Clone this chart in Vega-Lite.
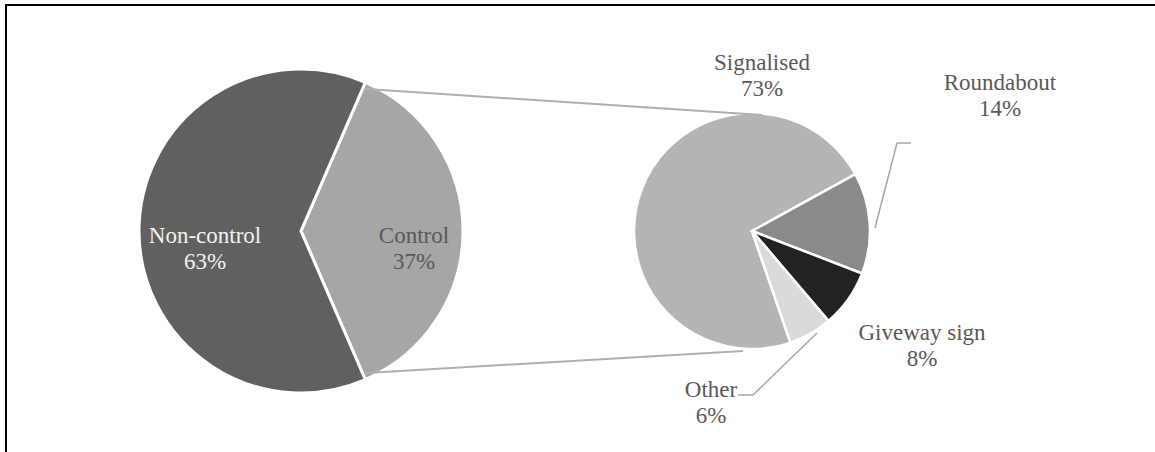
{
  "$schema": "https://vega.github.io/schema/vega-lite/v6.json",
  "width": 1155,
  "height": 452,
  "autosize": {"type": "fit", "contains": "padding"},
  "padding": {"left": 6, "top": 5, "right": 0, "bottom": 0},
  "background": "white",
  "config": {
    "view": {"stroke": "black", "strokeWidth": 2, "strokeDash": [1149, 1596, 449]},
    "text": {"font": "Liberation Serif"}
  },
  "data": {
    "values": [
      {"pie": "All", "category": "Control", "value": 37, "seq": 1},
      {"pie": "All", "category": "Non-control", "value": 63, "seq": 2},
      {"pie": "Control", "category": "Signalised", "value": 73, "seq": 1},
      {"pie": "Control", "category": "Roundabout", "value": 14, "seq": 2},
      {"pie": "Control", "category": "Giveway sign", "value": 8, "seq": 3},
      {"pie": "Control", "category": "Other", "value": 6, "seq": 4}
    ]
  },
  "encoding": {
    "x": {"field": "pie", "type": "nominal", "scale": {"type": "point", "domain": ["All", "Control"], "range": [295, 746], "padding": 0}, "axis": null},
    "y": {"field": "pie", "type": "nominal", "scale": {"type": "point", "domain": ["All", "Control"], "range": [226, 226], "padding": 0}, "axis": null}
  },
  "layer": [
    {
      "transform": [{"filter": "datum.pie === 'All'"}],
      "mark": {"type": "arc", "radius": 162, "stroke": "white", "strokeWidth": 3},
      "encoding": {
        "theta": {"field": "value", "type": "quantitative", "stack": true, "scale": {"range": [0.4084, 6.6916], "nice": false, "zero": true}},
        "order": {"field": "seq", "type": "quantitative"},
        "color": {"field": "category", "type": "nominal", "legend": null, "scale": {"domain": ["Non-control", "Control", "Signalised", "Roundabout", "Giveway sign", "Other"], "range": ["#606060", "#a6a6a6", "#b4b4b4", "#8a8a8a", "#222222", "#dadada"]}}
      }
    },
    {
      "transform": [{"filter": "datum.pie === 'Control'"}],
      "mark": {"type": "arc", "radius": 118, "stroke": "white", "strokeWidth": 2.5},
      "encoding": {
        "theta": {"field": "value", "type": "quantitative", "stack": true, "scale": {"range": [2.81, 9.093], "nice": false, "zero": true}},
        "order": {"field": "seq", "type": "quantitative"},
        "color": {"field": "category", "type": "nominal", "legend": null}
      }
    },
    {
      "data": {"values": [{"link": "top"}]},
      "mark": {"type": "rule", "color": "#b0b0b0", "strokeWidth": 2, "xOffset": 65, "yOffset": -142, "x2Offset": 10, "y2Offset": -116},
      "encoding": {"x": {"datum": "All", "type": "nominal"}, "x2": {"datum": "Control"}, "y": {"datum": "All", "type": "nominal"}, "y2": {"datum": "Control"}}
    },
    {
      "data": {"values": [{"link": "bottom"}]},
      "mark": {"type": "rule", "color": "#b0b0b0", "strokeWidth": 2, "xOffset": 65, "yOffset": 142, "x2Offset": -9, "y2Offset": 120},
      "encoding": {"x": {"datum": "All", "type": "nominal"}, "x2": {"datum": "Control"}, "y": {"datum": "All", "type": "nominal"}, "y2": {"datum": "Control"}}
    },
    {
      "data": {"values": [{"leader": "Roundabout"}]},
      "mark": {"type": "rule", "color": "#a6a6a6", "strokeWidth": 1.5, "xOffset": 123, "yOffset": -3, "x2Offset": 145, "y2Offset": -88},
      "encoding": {"x": {"datum": "Control", "type": "nominal"}, "x2": {"datum": "Control"}, "y": {"datum": "Control", "type": "nominal"}, "y2": {"datum": "Control"}}
    },
    {
      "data": {"values": [{"leader": "Roundabout"}]},
      "mark": {"type": "rule", "color": "#a6a6a6", "strokeWidth": 1.5, "xOffset": 145, "yOffset": -88, "x2Offset": 159, "y2Offset": -88},
      "encoding": {"x": {"datum": "Control", "type": "nominal"}, "x2": {"datum": "Control"}, "y": {"datum": "Control", "type": "nominal"}, "y2": {"datum": "Control"}}
    },
    {
      "data": {"values": [{"leader": "Other"}]},
      "mark": {"type": "rule", "color": "#a6a6a6", "strokeWidth": 1.5, "xOffset": 65, "yOffset": 102, "x2Offset": 1, "y2Offset": 164},
      "encoding": {"x": {"datum": "Control", "type": "nominal"}, "x2": {"datum": "Control"}, "y": {"datum": "Control", "type": "nominal"}, "y2": {"datum": "Control"}}
    },
    {
      "data": {"values": [{"leader": "Other"}]},
      "mark": {"type": "rule", "color": "#a6a6a6", "strokeWidth": 1.5, "xOffset": 1, "yOffset": 164, "x2Offset": -14, "y2Offset": 164},
      "encoding": {"x": {"datum": "Control", "type": "nominal"}, "x2": {"datum": "Control"}, "y": {"datum": "Control", "type": "nominal"}, "y2": {"datum": "Control"}}
    },
    {
      "transform": [{"filter": "datum.category === 'Non-control'"}, {"calculate": "datum.category + '\\n' + datum.value + '%'", "as": "label"}],
      "mark": {"type": "text", "fontSize": 23, "lineHeight": 25.5, "lineBreak": "\n", "align": "center", "baseline": "middle", "dx": -96, "dy": 5, "fill": "#f2f2f2"},
      "encoding": {"text": {"field": "label"}}
    },
    {
      "transform": [{"filter": "datum.category === 'Control'"}, {"calculate": "datum.category + '\\n' + datum.value + '%'", "as": "label"}],
      "mark": {"type": "text", "fontSize": 23, "lineHeight": 25.5, "lineBreak": "\n", "align": "center", "baseline": "middle", "dx": 113, "dy": 5, "fill": "#595959"},
      "encoding": {"text": {"field": "label"}}
    },
    {
      "transform": [{"filter": "datum.category === 'Signalised'"}, {"calculate": "datum.category + '\\n' + datum.value + '%'", "as": "label"}],
      "mark": {"type": "text", "fontSize": 23, "lineHeight": 25.5, "lineBreak": "\n", "align": "center", "baseline": "middle", "dx": 10, "dy": -168, "fill": "#595959"},
      "encoding": {"text": {"field": "label"}}
    },
    {
      "transform": [{"filter": "datum.category === 'Roundabout'"}, {"calculate": "datum.category + '\\n' + datum.value + '%'", "as": "label"}],
      "mark": {"type": "text", "fontSize": 23, "lineHeight": 25.5, "lineBreak": "\n", "align": "center", "baseline": "middle", "dx": 248, "dy": -148, "fill": "#595959"},
      "encoding": {"text": {"field": "label"}}
    },
    {
      "transform": [{"filter": "datum.category === 'Giveway sign'"}, {"calculate": "datum.category + '\\n' + datum.value + '%'", "as": "label"}],
      "mark": {"type": "text", "fontSize": 23, "lineHeight": 25.5, "lineBreak": "\n", "align": "center", "baseline": "middle", "dx": 170, "dy": 102, "fill": "#595959"},
      "encoding": {"text": {"field": "label"}}
    },
    {
      "transform": [{"filter": "datum.category === 'Other'"}, {"calculate": "datum.category + '\\n' + datum.value + '%'", "as": "label"}],
      "mark": {"type": "text", "fontSize": 23, "lineHeight": 25.5, "lineBreak": "\n", "align": "center", "baseline": "middle", "dx": -41, "dy": 159, "fill": "#595959"},
      "encoding": {"text": {"field": "label"}}
    }
  ],
  "resolve": {"scale": {"theta": "independent"}}
}
